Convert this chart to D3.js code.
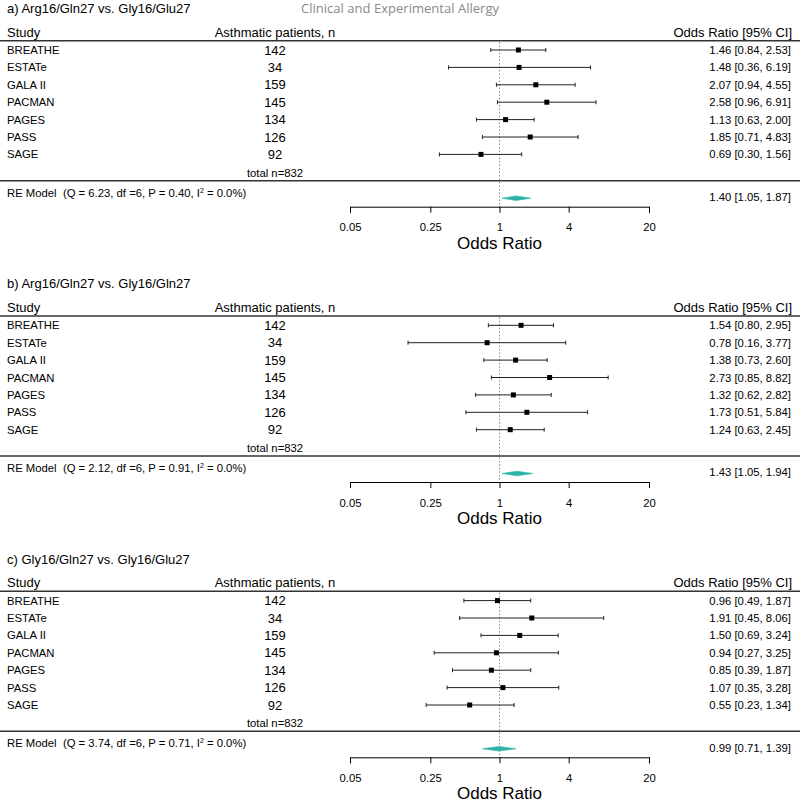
<!DOCTYPE html>
<html>
<head>
<meta charset="utf-8">
<script src="https://cdn.jsdelivr.net/npm/d3@7"></script>
<style>
  body { margin: 0; background: #fff; }
  svg { display: block; font-family: "Liberation Sans", Arial, sans-serif; }
</style>
</head>
<body>
<div id="chart"></div>
<script>
// studies and sample sizes (same in every panel)
const studies = ["BREATHE", "ESTATe", "GALA II", "PACMAN", "PAGES", "PASS", "SAGE"];
const patients = [142, 34, 159, 145, 134, 126, 92];
const totalN = 832;

const panelTitles = [
  "a) Arg16/Gln27 vs. Gly16/Glu27",
  "b) Arg16/Gln27 vs. Gly16/Gln27",
  "c) Gly16/Gln27 vs. Gly16/Glu27"
];

// odds ratios with 95% CI, one array per panel
const estimates = [
  [1.46, 1.48, 2.07, 2.58, 1.13, 1.85, 0.69],
  [1.54, 0.78, 1.38, 2.73, 1.32, 1.73, 1.24],
  [0.96, 1.91, 1.50, 0.94, 0.85, 1.07, 0.55]
];
const lowers = [
  [0.84, 0.36, 0.94, 0.96, 0.63, 0.71, 0.30],
  [0.80, 0.16, 0.73, 0.85, 0.62, 0.51, 0.63],
  [0.49, 0.45, 0.69, 0.27, 0.39, 0.35, 0.23]
];
const uppers = [
  [2.53, 6.19, 4.55, 6.91, 2.00, 4.83, 1.56],
  [2.95, 3.77, 2.60, 8.82, 2.82, 5.84, 2.45],
  [1.87, 8.06, 3.24, 3.25, 1.87, 3.28, 1.34]
];

// random effects summary
const reEstimate = [1.40, 1.43, 0.99];
const reLower = [1.05, 1.05, 0.71];
const reUpper = [1.87, 1.94, 1.39];
const heteroQ = ["6.23", "2.12", "3.74"];
const heteroDf = [6, 6, 6];
const heteroP = ["0.40", "0.91", "0.71"];
const heteroI2 = ["0.0", "0.0", "0.0"];

const tickValues = [0.05, 0.25, 1, 4, 20];

const width = 800, height = 803;
const panelStep = 275.3;
const rowTop = 50, rowStep = 17.4;

const svg = d3.select("#chart").append("svg")
    .attr("width", width)
    .attr("height", height);

const x = d3.scaleLog().domain([0.05, 20]).range([350, 649]);
const fmt = d3.format(".2f");

svg.append("text")
    .attr("x", 400)
    .attr("y", 13)
    .attr("text-anchor", "middle")
    .attr("fill", "#8a8a8a")
    .style("font-family", "'Open Sans', 'Noto Sans', sans-serif")
    .style("font-size", "13px")
    .attr("textLength", 198)
    .text("Clinical and Experimental Allergy");

panelTitles.forEach((title, p) => {
  const g = svg.append("g").attr("transform", `translate(0,${p * panelStep})`);
  const rowY = i => rowTop + i * rowStep;

  g.append("text").attr("x", 7).attr("y", 13)
      .style("font-size", "13px").text(title);

  // header
  g.append("text").attr("x", 7).attr("y", 36.5)
      .style("font-size", "13px").text("Study");
  g.append("text").attr("x", 275).attr("y", 36.5)
      .attr("text-anchor", "middle")
      .style("font-size", "13px").text("Asthmatic patients, n");
  g.append("text").attr("x", 792).attr("y", 36.5)
      .attr("text-anchor", "end")
      .style("font-size", "13px").text("Odds Ratio [95% CI]");

  g.selectAll("line.rule").data([40.7, 180.7]).join("line")
      .attr("class", "rule")
      .attr("x1", 0).attr("x2", width)
      .attr("y1", d => d).attr("y2", d => d)
      .attr("stroke", "#333").attr("stroke-width", 1.5);

  // reference line at OR = 1
  g.append("line")
      .attr("x1", x(1)).attr("x2", x(1))
      .attr("y1", 42).attr("y2", 206.7)
      .attr("stroke", "#888").attr("stroke-width", 1)
      .attr("stroke-dasharray", "1.5,2");

  const rows = g.selectAll("g.row").data(studies).join("g")
      .attr("class", "row")
      .attr("transform", (d, i) => `translate(0,${rowY(i)})`);

  rows.append("text").attr("x", 7).attr("y", 4)
      .style("font-size", "11.3px").text(d => d);
  rows.append("text").attr("x", 275).attr("y", 4.5)
      .attr("text-anchor", "middle")
      .style("font-size", "13px").text((d, i) => patients[i]);
  rows.append("text").attr("x", 791).attr("y", 4)
      .attr("text-anchor", "end")
      .style("font-size", "11.3px")
      .text((d, i) => `${fmt(estimates[p][i])} [${fmt(lowers[p][i])}, ${fmt(uppers[p][i])}]`);

  rows.append("line")
      .attr("x1", (d, i) => x(lowers[p][i])).attr("x2", (d, i) => x(uppers[p][i]))
      .attr("y1", 0).attr("y2", 0)
      .attr("stroke", "#222").attr("stroke-width", 1);
  rows.selectAll("line.cap").data((d, i) => [lowers[p][i], uppers[p][i]]).join("line")
      .attr("class", "cap")
      .attr("x1", d => x(d)).attr("x2", d => x(d))
      .attr("y1", -2).attr("y2", 2)
      .attr("stroke", "#222").attr("stroke-width", 1);
  rows.append("rect")
      .attr("x", (d, i) => x(estimates[p][i]) - 2.5)
      .attr("y", -2.5)
      .attr("width", 5).attr("height", 5)
      .attr("fill", "#000");

  g.append("text").attr("x", 275).attr("y", 176.5)
      .attr("text-anchor", "middle")
      .style("font-size", "11.3px").text(`total n=${totalN}`);

  // RE model row
  const re = g.append("text").attr("x", 7).attr("y", 196.5)
      .style("font-size", "11.3px")
      .attr("xml:space", "preserve");
  re.append("tspan").text(`RE Model  (Q = ${heteroQ[p]}, df =${heteroDf[p]}, P = ${heteroP[p]}, I`);
  re.append("tspan").attr("dy", -4).style("font-size", "7px").text("2");
  re.append("tspan").attr("dy", 4).text(` = ${heteroI2[p]}%)`);

  g.append("text").attr("x", 791).attr("y", 201)
      .attr("text-anchor", "end")
      .style("font-size", "11.3px")
      .text(`${fmt(reEstimate[p])} [${fmt(reLower[p])}, ${fmt(reUpper[p])}]`);

  const dy = 198.2, hh = 2.3;
  g.append("polygon")
      .attr("points", [
        [x(reLower[p]), dy], [x(reEstimate[p]), dy - hh],
        [x(reUpper[p]), dy], [x(reEstimate[p]), dy + hh]
      ].map(pt => pt.join(",")).join(" "))
      .attr("fill", "#2db3a9").attr("stroke", "#2db3a9").attr("stroke-width", 0.6);

  // axis
  const axis = g.append("g")
      .attr("transform", "translate(0,206.7)")
      .call(d3.axisBottom(x).tickValues(tickValues)
        .tickFormat(d => String(d)).tickSizeOuter(0).tickSize(6).tickPadding(10.5));
  axis.select(".domain").attr("stroke", "#000");
  axis.selectAll(".tick line").attr("stroke", "#000");
  axis.selectAll(".tick text")
      .style("font-family", "'Liberation Sans', Arial, sans-serif")
      .style("font-size", "11.3px").attr("fill", "#000");

  g.append("text").attr("x", x(1)).attr("y", 248.8)
      .attr("text-anchor", "middle")
      .style("font-size", "17px").text("Odds Ratio");
});
</script>
</body>
</html>
